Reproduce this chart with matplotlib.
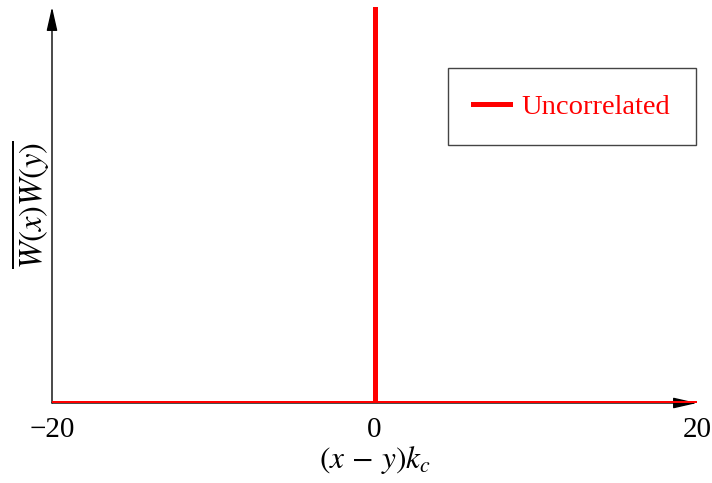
import matplotlib
matplotlib.use("Agg")
import matplotlib.pyplot as plt

plt.rcParams['font.family'] = ['Liberation Serif', 'DejaVu Serif']
plt.rcParams['mathtext.fontset'] = 'stix'

# White-noise correlation: zero everywhere except a delta spike at the origin
sep = [-20, 0, 0, 0, 20]
corr = [0, 0, 1, 0, 0]
xticks = [-20, 0, 20]
xtick_labels = ['\u221220', '0', '20']
series_label = 'Uncorrelated'

fig = plt.figure(figsize=(7.12, 4.83), dpi=100)
ax = fig.add_axes([52 / 712, 1 - 403 / 483, (697 - 52) / 712, (403 - 7) / 483])

ax.plot(sep, corr, color='red', lw=3.6, solid_joinstyle='miter', label=series_label)
ax.set_xlim(-20, 20)
ax.set_ylim(0, 1)

for side in ['top', 'right', 'left', 'bottom']:
    ax.spines[side].set_visible(False)

# axis lines with arrow heads
arrow = dict(arrowstyle='-|>,head_length=1.45,head_width=0.33', color='black', lw=1.0,
             shrinkA=0, shrinkB=0)
ax.annotate('', xy=(0, 1), xytext=(0, 0), xycoords='axes fraction',
            arrowprops=arrow, annotation_clip=False, zorder=1)
ax.annotate('', xy=(1, 0), xytext=(0, 0), xycoords='axes fraction',
            arrowprops=arrow, annotation_clip=False, zorder=1)

ax.set_xticks(xticks)
ax.set_xticklabels(xtick_labels, fontsize=21)
ax.tick_params(axis='x', length=0, pad=10)
ax.set_yticks([])

ax.set_xlabel(r'$(x\,-\,y)k_c$', fontsize=22.5, labelpad=1)
ax.set_ylabel(r'$\overline{W(x)W(y)}$', fontsize=23.5, labelpad=0)

leg = ax.legend(loc='upper right', bbox_to_anchor=(696 / 712, 1 - 68 / 483),
                bbox_transform=fig.transFigure, borderaxespad=0, fontsize=20.5,
                fancybox=False, framealpha=1, edgecolor='#444444', borderpad=0.9,
                handlelength=1.3, handletextpad=0.4, labelcolor='red')
leg.get_frame().set_linewidth(1.0)

fig.savefig('out.png', dpi=100)
